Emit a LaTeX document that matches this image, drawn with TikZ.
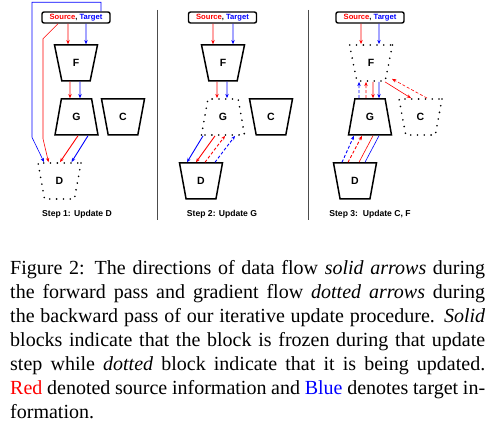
\documentclass[tikz,border=0pt]{standalone}
\usepackage{fontspec}
\setmainfont{Liberation Serif}
\setsansfont{Liberation Sans}
\usetikzlibrary{shapes.geometric,calc,arrows.meta}

\begin{document}
\begin{tikzpicture}[x=1pt,y=-1pt,
    >={Stealth[length=4.2pt,width=3.4pt]},
    block/.style={trapezium,trapezium left angle=77,trapezium right angle=77,
      trapezium stretches=true,minimum width=43pt,minimum height=36pt,inner sep=0pt,
      font=\sffamily\bfseries\fontsize{10.5}{12}\selectfont},
    wide/.style={block,shape border rotate=180},
    frozen/.style={draw,line width=1.5pt},
    updating/.style={draw,line width=1.8pt,line cap=round,dash pattern=on 0pt off 6.8pt},
    srcbox/.style={draw,rounded corners=2pt,line width=1.4pt,minimum width=68pt,
      minimum height=11pt,inner sep=0pt,font=\sffamily\bfseries\fontsize{7.6}{8}\selectfont},
    steplabel/.style={font=\sffamily\bfseries\fontsize{8.6}{10}\selectfont},
    fwd/.style={->,line width=0.9pt},
    bwd/.style={->,line width=0.9pt,dash pattern=on 3pt off 2pt},
  ]
  \useasboundingbox (0,0) rectangle (494,427);

  % step 1
  \node[srcbox] (src1) at (76,17.5) {\textcolor{red}{Source}, \textcolor{blue}{Target}};
  \node[wide,frozen] (F1) at (76,63) {F};
  \node[block,frozen] (G1) at (76.5,117) {G};
  \node[wide,frozen] (C1) at (123,117) {C};
  \node[wide,updating] (D1) at (59.5,181) {D};
  \node[steplabel] (step1) at (77,214) {Step 1: Update D};
  \draw[fwd,red] ($(src1.south)+(-8,0)$) -- ($(F1.north)+(-8,0)$);
  \draw[fwd,blue] ($(src1.south)+(10,0)$) -- ($(F1.north)+(10,0)$);
  \draw[fwd,red] ($(F1.south)+(-6,0)$) -- ($(G1.north)+(-6.5,0)$);
  \draw[fwd,blue] ($(F1.south)+(4,0)$) -- ($(G1.north)+(3.5,0)$);
  \draw[fwd,red] ($(G1.south)+(1.5,0)$) -- ($(D1.north)+(0.5,0)$);
  \draw[fwd,blue] ($(G1.south)+(11.5,0)$) -- ($(D1.north)+(12,0)$);
  \draw[fwd,red,line width=0.6pt] ($(src1.south)+(-18,0)$) -- ++(-15,15) -- ++(0,100)
    -- ($(D1.north)+(-11,0)$);
  \draw[fwd,blue,line width=0.6pt] ($(src1.north)+(25,0)$) -- ++(0,-9) -- ++(-69,0)
    -- ++(0,135) -- ($(D1.north)+(-15.5,0)$);

  \draw[line width=0.8pt,black!70] (157,10) -- (157,220);

  % step 2
  \node[srcbox] (src2) at (222.5,17.5) {\textcolor{red}{Source}, \textcolor{blue}{Target}};
  \node[wide,frozen] (F2) at (223,63) {F};
  \node[block,updating] (G2) at (223,117) {G};
  \node[wide,frozen] (C2) at (271,117) {C};
  \node[wide,frozen] (D2) at (201,181) {D};
  \node[steplabel] (step2) at (222,214) {Step 2: Update G};
  \draw[fwd,red] ($(src2.south)+(-9.5,0)$) -- ($(F2.north)+(-10,0)$);
  \draw[fwd,blue] ($(src2.south)+(10.5,0)$) -- ($(F2.north)+(10,0)$);
  \draw[fwd,red] ($(F2.south)+(-6,0)$) -- ($(G2.north)+(-6,0)$);
  \draw[fwd,blue] ($(F2.south)+(4,0)$) -- ($(G2.north)+(4,0)$);
  \draw[fwd,blue] ($(G2.south)+(-20,0)$) -- ($(D2.north)+(-14,0)$);
  \draw[fwd,red] ($(G2.south)+(-8,0)$) -- ($(D2.north)+(-5,0)$);
  \draw[bwd,red] ($(D2.north)+(4,0)$) -- ($(G2.south)+(2,0)$);
  \draw[bwd,blue] ($(D2.north)+(14,0)$) -- ($(G2.south)+(12,0)$);

  \draw[line width=0.8pt,black!70] (308,10) -- (308,220);

  % step 3
  \node[srcbox] (src3) at (370,17.5) {\textcolor{red}{Source}, \textcolor{blue}{Target}};
  \node[wide,updating] (F3) at (371,63) {F};
  \node[block,frozen] (G3) at (370,117) {G};
  \node[wide,updating] (C3) at (420.5,117) {C};
  \node[wide,frozen] (D3) at (355,181) {D};
  \node[steplabel] (step3) at (370,214) {Step 3:\ \ Update C, F};
  \draw[fwd,red] ($(src3.south)+(-9,0)$) -- ($(F3.north)+(-10,0)$);
  \draw[fwd,blue] ($(src3.south)+(9,0)$) -- ($(F3.north)+(8,0)$);
  \draw[bwd,blue] ($(G3.north)+(-11,0)$) -- ($(F3.south)+(-12,0)$);
  \draw[bwd,red] ($(G3.north)+(-4,0)$) -- ($(F3.south)+(-5,0)$);
  \draw[fwd,red] ($(F3.south)+(2,0)$) -- ($(G3.north)+(3,0)$);
  \draw[fwd,blue] ($(F3.south)+(8,0)$) -- ($(G3.north)+(9,0)$);
  \draw[fwd,red,line width=0.6pt] ($(F3.south)+(14,0)$) -- ($(C3.north)+(-9.5,0)$);
  \draw[bwd,red,line width=0.6pt] ($(C3.north)+(6.5,0)$) -- ($(F3.south)+(21,-3)$);
  \draw[bwd,blue] ($(D3.north)+(-13,0)$) -- ($(G3.south)+(-16,0)$);
  \draw[bwd,red] ($(D3.north)+(-7,0)$) -- ($(G3.south)+(-8,0)$);
  \draw[red,line width=0.6pt] (G3.south) ++(3,0) -- ($(D3.north)+(4,0)$);
  \draw[blue,line width=0.6pt] (G3.south) ++(9,0) -- ($(D3.north)+(10,0)$);

  % caption
  \node[anchor=north west,inner sep=0pt,text width=475pt,align=justify,
    font=\fontsize{20}{24}\selectfont] (caption) at (10,260.3)
    {Figure 2: The directions of data flow \textit{solid arrows} during\linebreak
     the forward pass and gradient flow \textit{dotted arrows} during\linebreak
     the backward pass of our iterative update procedure. \textit{Solid}\linebreak
     blocks indicate that the block is frozen during that update\linebreak
     step while \textit{dotted} block indicate that it is being updated.\linebreak
     \textcolor{red}{Red} denoted source information and \textcolor{blue}{Blue} denotes target in-\linebreak
     formation.};
\end{tikzpicture}
\end{document}
